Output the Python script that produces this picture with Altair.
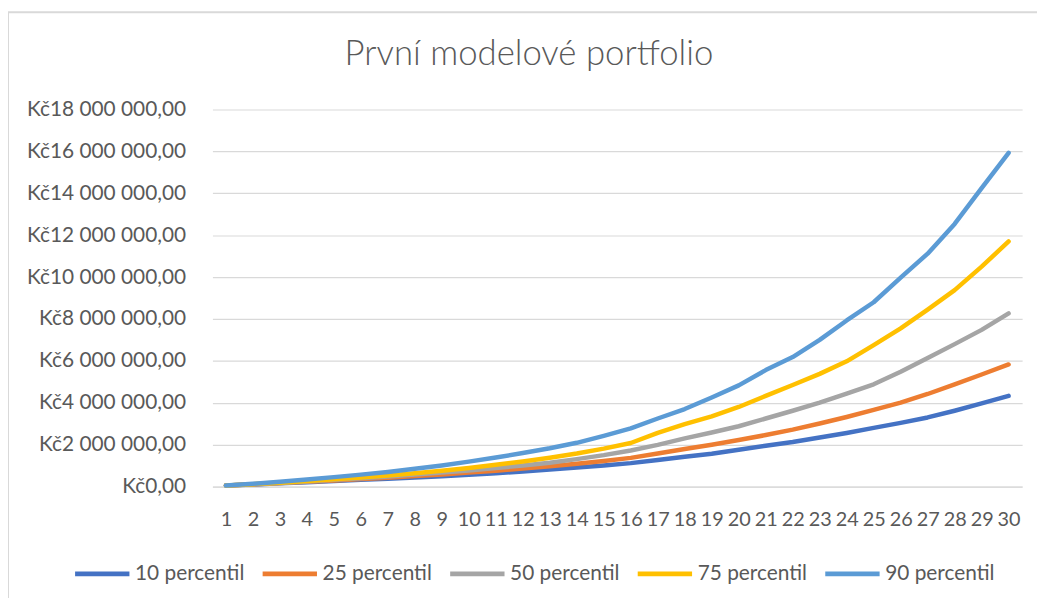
import altair as alt
import pandas as pd

roky = list(range(1, 31))
serie = ["10 percentil", "25 percentil", "50 percentil", "75 percentil", "90 percentil"]
barvy = ["#4472C4", "#ED7D31", "#A5A5A5", "#FFC000", "#5B9BD5"]
nadpis = "První modelové portfolio"

p10 = [50000, 100000, 155000, 210000, 265000, 320000, 375000, 435000, 495000, 560000,
       640000, 720000, 810000, 910000, 1010000, 1120000, 1270000, 1420000, 1570000, 1760000,
       1950000, 2130000, 2340000, 2560000, 2800000, 3040000, 3300000, 3620000, 3970000, 4330000]
p25 = [50000, 105000, 165000, 225000, 290000, 355000, 425000, 500000, 580000, 665000,
       760000, 860000, 970000, 1090000, 1220000, 1370000, 1580000, 1790000, 2000000, 2220000,
       2460000, 2720000, 3010000, 3320000, 3660000, 4010000, 4420000, 4880000, 5350000, 5830000]
p50 = [50000, 110000, 175000, 245000, 320000, 400000, 480000, 570000, 665000, 770000,
       885000, 1010000, 1140000, 1310000, 1500000, 1720000, 1990000, 2300000, 2580000, 2880000,
       3250000, 3620000, 4010000, 4440000, 4880000, 5480000, 6140000, 6800000, 7480000, 8270000]
p75 = [50000, 115000, 185000, 260000, 345000, 435000, 530000, 640000, 760000, 890000,
       1040000, 1200000, 1380000, 1580000, 1810000, 2080000, 2560000, 2980000, 3350000, 3800000,
       4330000, 4850000, 5380000, 5980000, 6750000, 7550000, 8450000, 9380000, 10500000, 11700000]
p90 = [50000, 135000, 230000, 335000, 450000, 570000, 700000, 850000, 1010000, 1190000,
       1390000, 1600000, 1830000, 2090000, 2420000, 2780000, 3250000, 3700000, 4250000, 4830000,
       5560000, 6180000, 7000000, 7930000, 8800000, 9970000, 11120000, 12540000, 14250000, 15930000]

y_ticks = [0, 2000000, 4000000, 6000000, 8000000, 10000000, 12000000, 14000000, 16000000, 18000000]

rows = []
for name, vals in zip(serie, [p10, p25, p50, p75, p90]):
    for r, v in zip(roky, vals):
        rows.append({"rok": r, "serie": name, "hodnota": v})
df = pd.DataFrame(rows)

FONT = "Lato"
TXT = "#595959"
GRID = "#D9D9D9"

lines = alt.Chart(df).mark_line(strokeWidth=4.5, strokeCap="round", strokeJoin="round").encode(
    x=alt.X("rok:O", scale=alt.Scale(type="point", padding=0.5),
            axis=alt.Axis(title=None, labelAngle=0, ticks=False, domain=True, domainColor=GRID,
                          domainWidth=1, grid=False, labelPadding=23, labelFont=FONT,
                          labelFontSize=20, labelColor=TXT, labelOverlap=False)),
    y=alt.Y("hodnota:Q", scale=alt.Scale(domain=[0, 18000000], nice=False),
            axis=alt.Axis(title=None, values=y_ticks, ticks=False, domain=False, grid=True,
                          gridColor=GRID, gridWidth=1.2, labelPadding=27, labelFont=FONT,
                          labelFontSize=21, labelColor=TXT,
                          labelExpr="datum.value == 0 ? 'Kč0,00' : 'Kč' + format(datum.value/1000000, 'd') + ' 000 000,00'")),
    color=alt.Color("serie:N", scale=alt.Scale(domain=serie, range=barvy),
                    legend=alt.Legend(title=None, orient="none", legendX=-141, legendY=438,
                                      direction="horizontal", symbolType="stroke",
                                      symbolSize=3000, symbolStrokeWidth=5,
                                      labelFont=FONT, labelFontSize=21, labelColor=TXT,
                                      labelOffset=3, columnPadding=7)),
)

frame = alt.Chart(pd.DataFrame({"k": [0]})).mark_rect(
    fill=None, stroke=GRID, strokeWidth=2
).encode(
    x=alt.value(-206), x2=alt.value(1200), y=alt.value(-98), y2=alt.value(600)
)

title = alt.Chart(pd.DataFrame({"t": [nadpis]})).mark_text(
    font=FONT, fontSize=35, fontWeight=300, color=TXT, align="center", baseline="middle"
).encode(text="t:N", x=alt.value(319), y=alt.value(-56))

chart = alt.layer(frame, lines, title).properties(
    width=816, height=380,
    autosize=alt.AutoSizeParams(type="none"),
    padding={"left": 206, "top": 100, "right": 15, "bottom": 110},
).configure_view(stroke=None)

chart.save("out.html", embed_options={"renderer": "svg", "actions": False})
